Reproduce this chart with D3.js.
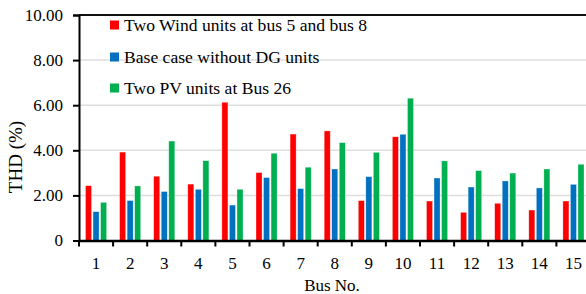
<!DOCTYPE html>
<html>
<head>
<meta charset="utf-8">
<script src="https://cdn.jsdelivr.net/npm/d3@7/dist/d3.min.js"></script>
<style>
  html, body { margin: 0; padding: 0; background: #fff; }
  svg { display: block; }
  text { font-family: "Liberation Serif", "Times New Roman", serif; fill: #000; }
</style>
</head>
<body>
<script>
const buses = ["1","2","3","4","5","6","7","8","9","10","11","12","13","14","15"];
const seriesNames = ["Two Wind units at bus 5 and bus 8", "Base case without DG units", "Two PV units at Bus 26"];
const seriesColors = ["#FF0000", "#0070C0", "#00B050"];
const windValues = [2.43, 3.92, 2.85, 2.50, 6.13, 3.01, 4.72, 4.86, 1.77, 4.60, 1.75, 1.25, 1.65, 1.35, 1.75];
const baseValues = [1.28, 1.77, 2.17, 2.27, 1.57, 2.79, 2.30, 3.17, 2.83, 4.71, 2.77, 2.37, 2.64, 2.33, 2.49];
const pvValues   = [1.69, 2.42, 4.41, 3.54, 2.27, 3.87, 3.25, 4.34, 3.91, 6.31, 3.53, 3.10, 2.99, 3.17, 3.38];
const yTicks = [0, 2, 4, 6, 8, 10];
const yTickLabels = ["0", "2.00", "4.00", "6.00", "8.00", "10.00"];

const W = 586, H = 294;
const svg = d3.select("body").append("svg").attr("width", W).attr("height", H);
svg.append("rect").attr("width", W).attr("height", H).attr("fill", "#fff");

const mLeft = 79, mTop = 15, mBottom = 240.5;
const step = 34.1;
const x0 = d3.scaleBand().domain(buses).range([mLeft, mLeft + step * buses.length]).padding(0);
const x1 = d3.scaleBand().domain(d3.range(3)).range([6.5, 27.6]).paddingInner(0.2).paddingOuter(0);
const y = d3.scaleLinear().domain([0, 10]).range([mBottom, mTop]);

// gridlines
svg.append("g").selectAll("line").data(yTicks.filter(d => d > 0 && d < 10)).join("line")
  .attr("x1", mLeft).attr("x2", W).attr("y1", d => y(d)).attr("y2", d => y(d))
  .attr("stroke", "#dedede").attr("stroke-width", 1.5);
// top line
svg.append("line").attr("x1", mLeft).attr("x2", W).attr("y1", y(10)).attr("y2", y(10))
  .attr("stroke", "#111").attr("stroke-width", 2);

// bars
const allSeries = [windValues, baseValues, pvValues];
const groups = svg.append("g").selectAll("g").data(buses).join("g")
  .attr("transform", d => `translate(${x0(d)},0)`);
groups.selectAll("rect").data((d, i) => allSeries.map((s, k) => ({k, v: s[i]}))).join("rect")
  .attr("x", d => x1(d.k)).attr("width", x1.bandwidth())
  .attr("y", d => y(d.v)).attr("height", d => y(0) - y(d.v))
  .attr("fill", d => seriesColors[d.k])
  .attr("stroke", "#fff").attr("stroke-opacity", 0.5).attr("stroke-width", 0.6);

// y axis
const yAxis = d3.axisLeft(y).tickValues(yTicks).tickFormat((d, i) => yTickLabels[i]).tickSize(6).tickPadding(10);
const gy = svg.append("g").attr("transform", `translate(${mLeft},0)`).call(yAxis);
gy.attr("font-family", null);
gy.select(".domain").attr("stroke", "#000").attr("stroke-width", 2);
gy.selectAll(".tick line").attr("stroke", "#000").attr("stroke-width", 2);
gy.selectAll("text").style("font-size", "17px").style("font-family", "'Liberation Serif', serif");

// x axis
const xAxis = d3.axisBottom(x0).tickSize(0).tickPadding(16);
const gx = svg.append("g").attr("transform", `translate(0,${mBottom})`).call(xAxis);
gx.attr("font-family", null);
gx.select(".domain").attr("stroke", "#000").attr("stroke-width", 2.5);
gx.selectAll("text").style("font-size", "17px").style("font-family", "'Liberation Serif', serif");
const bounds = buses.map(b => x0(b)).concat([x0.range()[1]]);
svg.append("g").selectAll("line").data(bounds).join("line")
  .attr("x1", d => d).attr("x2", d => d).attr("y1", mBottom).attr("y2", mBottom + 6)
  .attr("stroke", "#000").attr("stroke-width", 2);

// axis titles
svg.append("text").attr("x", 332).attr("y", 291).attr("text-anchor", "middle")
  .style("font-size", "17px").text("Bus No.");
svg.append("text").attr("transform", "translate(22,157) rotate(-90)").attr("text-anchor", "middle")
  .style("font-size", "19px").text("THD (%)");

// legend
const legendY = [25, 57, 88];
const lg = svg.append("g").selectAll("g").data(seriesNames).join("g")
  .attr("transform", (d, i) => `translate(110,${legendY[i]})`);
lg.append("rect").attr("x", 0).attr("y", -4.5).attr("width", 9).attr("height", 9)
  .attr("fill", (d, i) => seriesColors[i]);
lg.append("text").attr("x", 14).attr("y", 6).style("font-size", "17.6px").text(d => d);
</script>
</body>
</html>
